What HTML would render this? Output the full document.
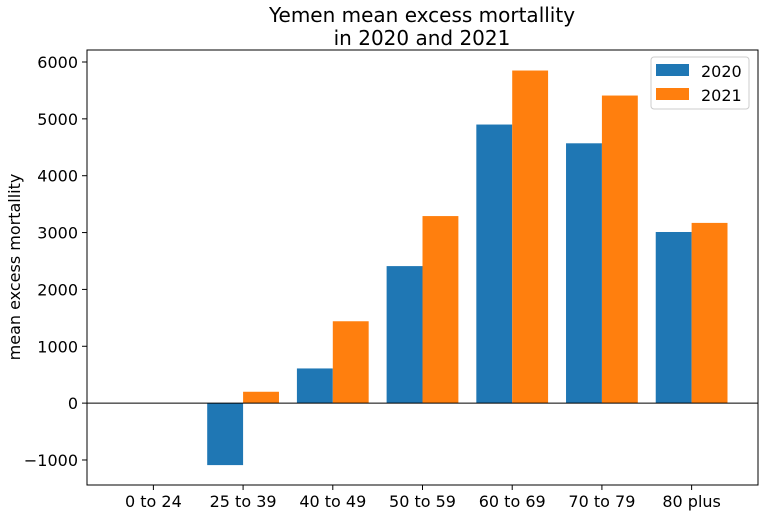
<!DOCTYPE html>
<html><head><meta charset="utf-8"><style>
body{margin:0;background:#fff;font-family:"DejaVu Sans","Liberation Sans",sans-serif}
svg text{font-family:"DejaVu Sans","Liberation Sans",sans-serif;fill:#000}
</style></head><body>
<svg id="chart" width="763" height="514" xmlns="http://www.w3.org/2000/svg">
<text x="422" y="22" font-size="20" text-anchor="middle">Yemen mean excess mortallity</text>
<text x="422" y="45" font-size="20" text-anchor="middle">in 2020 and 2021</text>
<text transform="translate(20,267) rotate(-90)" font-size="16" text-anchor="middle">mean excess mortallity</text>
<g id="bars"></g>
<g id="axes"></g>
<g>
<rect x="651" y="57" width="98" height="52" fill="#fff" stroke="#ccc" rx="3"/>
<rect x="656" y="64" width="33" height="12" fill="#1f77b4"/>
<text x="701" y="77" font-size="16">2020</text>
<rect x="656" y="88" width="33" height="12" fill="#ff7f0e"/>
<text x="701" y="101" font-size="16">2021</text>
</g>
</svg>
<script>
const categories=["0 to 24","25 to 39","40 to 49","50 to 59","60 to 69","70 to 79","80 plus"];
const values2020=[0,-1090,610,2410,4900,4570,3010];
const values2021=[0,200,1440,3290,5850,5410,3170];
const yTicks=[-1000,0,1000,2000,3000,4000,5000,6000];
const NS="http://www.w3.org/2000/svg";
const L=87,R=758,T=50,B=485;
const xMin=-0.74,xMax=6.74,yMin=-1440,yMax=6211;
const xs=v=>L+(v-xMin)/(xMax-xMin)*(R-L);
const ys=v=>B-(v-yMin)/(yMax-yMin)*(B-T);
function mk(tag,attrs,parent){const e=document.createElementNS(NS,tag);for(const k in attrs)e.setAttribute(k,attrs[k]);parent.appendChild(e);return e;}
const bars=document.getElementById('bars'),axes=document.getElementById('axes');
const w=0.4;
categories.forEach((c,i)=>{
 [[values2020,'#1f77b4',-w,'2020'],[values2021,'#ff7f0e',0,'2021']].forEach(([arr,col,off,yr])=>{
  const v=arr[i];const x0=xs(i+off),x1=xs(i+off+w);
  const r=mk('rect',{x:x0,y:Math.min(ys(v),ys(0)),width:x1-x0,height:Math.abs(ys(v)-ys(0)),fill:col},bars);
  
  
 });
 mk('line',{x1:xs(i),x2:xs(i),y1:B,y2:B+5,stroke:'#000'},axes);
 const t=mk('text',{x:xs(i),y:B+22,'font-size':16,'text-anchor':'middle'},axes);
 t.textContent=c;
 
 
});
yTicks.forEach(v=>{
 mk('line',{x1:L-5,x2:L,y1:ys(v),y2:ys(v),stroke:'#000'},axes);
 const t=mk('text',{x:L-9,y:ys(v)+6,'font-size':16,'text-anchor':'end'},axes);
 t.textContent=v<0?'\u2212'+Math.abs(v):v;
 
 
});
const zl=mk('line',{x1:L,x2:R,y1:ys(0),y2:ys(0),stroke:'#000','stroke-width':1},axes);


const fr=mk('rect',{x:L,y:T,width:R-L,height:B-T,fill:'none',stroke:'#000','stroke-width':1},axes);


</script>
</body></html>
